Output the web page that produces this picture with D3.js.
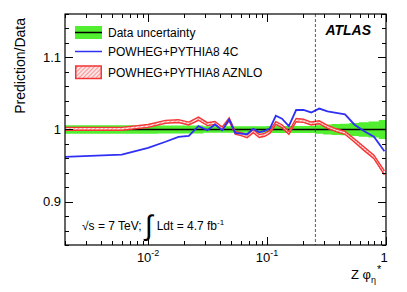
<!DOCTYPE html>
<html>
<head>
<meta charset="utf-8">
<script src="https://cdn.jsdelivr.net/npm/d3@7"></script>
<style>
    body { margin: 0; background: #fff; }
    text { font-family: 'Liberation Sans', Arial, sans-serif; }
</style>
</head>
<body>
<svg id="chart" width="407" height="292"></svg>
<script>
'use strict';

// bin centres of Z phi*_eta
var xCenters = [0.002, 0.006, 0.01, 0.014, 0.018, 0.022, 0.0265, 0.0315, 0.0365, 0.042,
    0.048, 0.054, 0.0605, 0.068, 0.0765, 0.086, 0.0955, 0.106, 0.1185, 0.1335,
    0.1525, 0.1755, 0.2025, 0.235, 0.2745, 0.3225, 0.381, 0.4525, 0.541, 0.6515,
    0.7915, 0.97];
var binEdges = [0, 0.004, 0.008, 0.012, 0.016, 0.020, 0.024, 0.029, 0.034, 0.039,
    0.045, 0.051, 0.057, 0.064, 0.072, 0.081, 0.091, 0.1, 0.112, 0.125,
    0.142, 0.163, 0.188, 0.217, 0.253, 0.296, 0.349, 0.413, 0.492, 0.59,
    0.713, 0.87, 1.07];
var dataErr = [0.006, 0.006, 0.006, 0.0055, 0.0055, 0.0055, 0.0055, 0.0045, 0.0045, 0.0045,
    0.0045, 0.0045, 0.0045, 0.0045, 0.0045, 0.0045, 0.0045, 0.0048, 0.0048, 0.0048,
    0.0048, 0.0048, 0.0048, 0.0048, 0.006, 0.007, 0.0075, 0.008, 0.009, 0.010,
    0.011, 0.013];
var ratio4C = [0.962, 0.9653, 0.9745, 0.983, 0.9898, 0.991, 1.0046, 0.999, 1.007, 0.999,
    1.014, 0.9954, 0.9944, 0.9935, 1.001, 0.996, 0.998, 1.0018, 1.019, 1.015,
    1.0046, 1.027, 1.027, 1.0236, 1.029, 1.025, 1.023, 1.021, 1.007, 0.998,
    0.990, 0.970];
var ratioAZNLO = [1.001, 1.001, 1.005, 1.0106, 1.0116, 1.0083, 1.015, 1.0074, 1.009, 1.0014,
    1.014, 0.9954, 0.9935, 0.9907, 0.9977, 0.991, 0.9926, 0.9968, 1.009, 1.0046,
    0.9954, 1.013, 1.012, 1.0083, 1.010, 1.0037, 0.999, 0.9954, 0.985, 0.9736,
    0.962, 0.940];
var aznloErr = [0.002, 0.002, 0.002, 0.002, 0.002, 0.002, 0.0022, 0.002, 0.002, 0.002,
    0.002, 0.002, 0.002, 0.002, 0.002, 0.002, 0.002, 0.002, 0.002, 0.002,
    0.002, 0.0022, 0.0022, 0.002, 0.002, 0.002, 0.002, 0.002, 0.0022, 0.0025,
    0.0025, 0.0028];
var xDomain = [0.002, 1];
var yDomain = [0.84, 1.16];
var yMajor = [0.9, 1.0, 1.1];
var legendLabels = ['Data uncertainty', 'POWHEG+PYTHIA8 4C', 'POWHEG+PYTHIA8 AZNLO'];
var cutValue = 0.255;

var GREEN = '#52ee30';
var BLUE = '#3030f5';
var RED = '#f53535';

var margin = { left: 65, right: 21, top: 14, bottom: 47 };
var W = 407, H = 292;
var pw = W - margin.left - margin.right;
var ph = H - margin.top - margin.bottom;

var svg = d3.select('#chart');
svg.append('rect').attr('width', W).attr('height', H).style('fill', '#fff');

var defs = svg.append('defs');
defs.append('clipPath').attr('id', 'clip')
    .append('rect').attr('width', pw).attr('height', ph);
var hatch = defs.append('pattern')
    .attr('id', 'hatch')
    .attr('patternUnits', 'userSpaceOnUse')
    .attr('width', 3).attr('height', 3)
    .attr('patternTransform', 'rotate(45)');
hatch.append('rect').attr('width', 3).attr('height', 3).style('fill', '#fde4e4');
hatch.append('line').attr('x1', 0).attr('y1', 0).attr('x2', 0).attr('y2', 3)
    .style('stroke', RED).style('stroke-width', 0.9);

var x = d3.scaleLog().domain(xDomain).range([0, pw]);
var y = d3.scaleLinear().domain(yDomain).range([ph, 0]);

var g = svg.append('g').attr('transform', 'translate(' + margin.left + ',' + margin.top + ')');
var plot = g.append('g').attr('clip-path', 'url(#clip)');

// data uncertainty band (per bin)
var bandPts = [];
dataErr.forEach(function(e, i) {
    bandPts.push({ x: Math.max(binEdges[i], xDomain[0] * 0.5), e: e });
});
bandPts.push({ x: binEdges[binEdges.length - 1], e: dataErr[dataErr.length - 1] });
plot.append('path')
    .datum(bandPts)
    .attr('d', d3.area().curve(d3.curveStepAfter)
        .x(function(d) { return x(d.x); })
        .y0(function(d) { return y(1 - d.e); })
        .y1(function(d) { return y(1 + d.e); }))
    .style('fill', GREEN);

plot.append('line')
    .attr('x1', 0).attr('x2', pw)
    .attr('y1', y(1)).attr('y2', y(1))
    .style('stroke', '#000').style('stroke-width', 1.6);

// AZNLO band
var azPts = xCenters.map(function(v, i) { return { x: v, y: ratioAZNLO[i], e: aznloErr[i] }; });
plot.append('path')
    .datum(azPts)
    .attr('d', d3.area()
        .x(function(d) { return x(d.x); })
        .y0(function(d) { return y(d.y - d.e); })
        .y1(function(d) { return y(d.y + d.e); }))
    .style('fill', 'url(#hatch)');
[-1, 1].forEach(function(s) {
    plot.append('path')
        .datum(azPts)
        .attr('d', d3.line()
            .x(function(d) { return x(d.x); })
            .y(function(d) { return y(d.y + s * d.e); }))
        .style('fill', 'none').style('stroke', RED).style('stroke-width', 1.4);
});

// 4C line
plot.append('path')
    .datum(xCenters.map(function(v, i) { return { x: v, y: ratio4C[i] }; }))
    .attr('d', d3.line()
        .x(function(d) { return x(d.x); })
        .y(function(d) { return y(d.y); }))
    .style('fill', 'none').style('stroke', BLUE).style('stroke-width', 1.8);

// dashed cut line
g.append('line')
    .attr('x1', x(cutValue)).attr('x2', x(cutValue))
    .attr('y1', 0).attr('y2', ph)
    .style('stroke', '#333').style('stroke-width', 0.8)
    .style('stroke-dasharray', '3,2');

// axes, ROOT style with inner ticks on all sides
var xMajor = [0.01, 0.1, 1];
var xTicks = [];
[0.001, 0.01, 0.1].forEach(function(dec) {
    for (var k = 1; k <= 9; k++) {
        var v = dec * k;
        if (v >= xDomain[0] - 1e-9 && v <= xDomain[1] + 1e-9) xTicks.push(v);
    }
});
xTicks.push(1);
var yTicks = d3.range(0, 17).map(function(i) { return +(0.84 + 0.02 * i).toFixed(2); });

function isMajor(list, v) {
    return list.some(function(m) { return Math.abs(m - v) < 1e-9; });
}

var ticks = g.append('g').style('stroke', '#000').style('stroke-width', 1);
xTicks.forEach(function(v) {
    var len = isMajor(xMajor, v) ? 8 : 4;
    var px = Math.round(x(v)) + 0.5;
    ticks.append('line').attr('x1', px).attr('x2', px).attr('y1', ph).attr('y2', ph - len);
    ticks.append('line').attr('x1', px).attr('x2', px).attr('y1', 0).attr('y2', len);
});
yTicks.forEach(function(v) {
    var len = isMajor(yMajor, v) ? 8 : 4;
    var py = Math.round(y(v)) + 0.5;
    ticks.append('line').attr('x1', 0).attr('x2', len).attr('y1', py).attr('y2', py);
    ticks.append('line').attr('x1', pw).attr('x2', pw - len).attr('y1', py).attr('y2', py);
});

g.append('rect')
    .attr('x', 0).attr('y', 0).attr('width', pw).attr('height', ph)
    .style('fill', 'none').style('stroke', '#000').style('stroke-width', 1.2);

// tick labels
yMajor.forEach(function(v) {
    g.append('text')
        .attr('x', -4).attr('y', y(v) + 4.5)
        .style('text-anchor', 'end').style('font-size', '13px')
        .text(v === 1 ? '1' : d3.format('.1f')(v));
});
[[0.01, '-2'], [0.1, '-1']].forEach(function(p) {
    var t = g.append('text')
        .attr('x', x(p[0])).attr('y', ph + 17)
        .style('text-anchor', 'middle').style('font-size', '13px');
    t.append('tspan').text('10');
    t.append('tspan').attr('dy', -6).style('font-size', '9px').text(p[1]);
});
g.append('text')
    .attr('x', x(1) - 2).attr('y', ph + 17)
    .style('text-anchor', 'middle').style('font-size', '13px')
    .text('1');

// axis titles
var xt = svg.append('text')
    .attr('x', 351).attr('y', 279)
    .style('font-size', '13px');
xt.append('tspan').text('Z \u03c6');
xt.append('tspan').attr('dy', 4).style('font-size', '9px').text('\u03b7');
xt.append('tspan').attr('dy', -10).attr('dx', 1).style('font-size', '11px').text('*');

svg.append('text')
    .attr('transform', 'translate(25,18) rotate(-90)')
    .style('text-anchor', 'end').style('font-size', '14px')
    .text('Prediction/Data');

// ATLAS label
svg.append('text')
    .attr('x', 371).attr('y', 35)
    .style('text-anchor', 'end').style('font-size', '14px')
    .style('font-weight', 'bold').style('font-style', 'italic')
    .text('ATLAS');

// energy / lumi label
var lab = svg.append('text').attr('x', 82).attr('y', 230).style('font-size', '12px');
lab.append('tspan').text('\u221as = 7 TeV; ');
lab.append('tspan').style('font-size', '28px').attr('dy', 5).text('\u222b');
lab.append('tspan').attr('dy', -5).attr('dx', 4).text('Ldt = 4.7 fb');
lab.append('tspan').attr('dy', -5).style('font-size', '8px').text('-1');

// legend
var leg = svg.append('g').attr('transform', 'translate(75,26)');
var rowH = 21;
leg.append('rect').attr('x', 0).attr('y', 0).attr('width', 27).attr('height', 13).style('fill', GREEN);
leg.append('line').attr('x1', 0).attr('x2', 27).attr('y1', 6.5).attr('y2', 6.5)
    .style('stroke', '#000').style('stroke-width', 1.5);
leg.append('line').attr('x1', 0).attr('x2', 27).attr('y1', rowH + 4.5).attr('y2', rowH + 4.5)
    .style('stroke', BLUE).style('stroke-width', 1.5);
leg.append('rect').attr('x', 0.75).attr('y', 2 * rowH - 2).attr('width', 25.5).attr('height', 12.5)
    .style('fill', 'url(#hatch)').style('stroke', RED).style('stroke-width', 1.5);
legendLabels.forEach(function(s, i) {
    leg.append('text')
        .attr('x', 33).attr('y', [11, rowH + 8.5, 2 * rowH + 9][i])
        .style('font-size', '12px')
        .text(s);
});
</script>
</body>
</html>
